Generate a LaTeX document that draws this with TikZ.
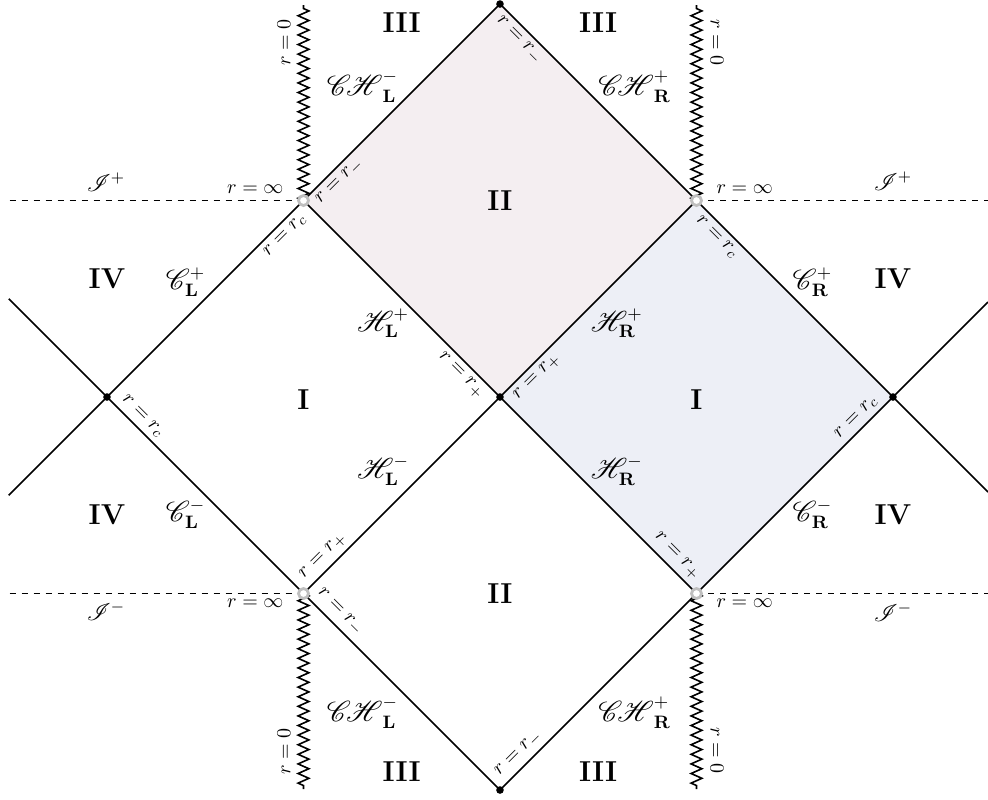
\documentclass[tikz,border=0pt]{standalone}
\usepackage{amsmath,amssymb}
\usepackage{mathrsfs}
\usetikzlibrary{decorations.pathmorphing}
\usetikzlibrary{calc,positioning}

\definecolor{regionII}{RGB}{244,238,241}
\definecolor{regionI}{RGB}{237,239,246}

\begin{document}
\begin{tikzpicture}[
    x=1.7266cm, y=1.7266cm,
    edge/.style={line width=0.8pt},
    scri/.style={dashed, line width=0.8pt},
    sing/.style={line width=0.8pt, decorate,
        decoration={zigzag, segment length=4.8pt, amplitude=2.7pt}},
    dot/.style={circle, fill=black, inner sep=0pt, minimum size=3.8pt},
    hole/.style={circle, draw=black!25, fill=white, line width=1.4pt,
        inner sep=0pt, minimum size=5pt},
    region/.style={font=\Large\bfseries},
    lbl/.style={inner sep=2.5pt},
    bdry/.style={font=\fontsize{13.5pt}{16pt}\selectfont},
    scrinf/.style={font=\fontsize{11.5pt}{14pt}\selectfont},
 ]
    \useasboundingbox (-5.089,-4.092) rectangle (4.967,4.041);

    % corners of the diagram
    \coordinate (T) at (0,4);
    \coordinate (B) at (0,-4);
    \coordinate (L) at (-4,0);
    \coordinate (R) at (4,0);
    \coordinate (O) at (0,0);
    \coordinate (TL) at (-2,2);
    \coordinate (TR) at (2,2);
    \coordinate (BL) at (-2,-2);
    \coordinate (BR) at (2,-2);
    % free ends
    \coordinate (LU) at (-5,1);
    \coordinate (LD) at (-5,-1);
    \coordinate (RU) at (4.967,0.967);
    \coordinate (RD) at (4.967,-0.967);
    \coordinate (SLU) at (-4.99,2);
    \coordinate (SRU) at (4.967,2);
    \coordinate (SLD) at (-4.99,-2);
    \coordinate (SRD) at (4.967,-2);
    \coordinate (ZTL) at (-2,3.99);
    \coordinate (ZTR) at (2,3.99);
    \coordinate (ZBL) at (-2,-3.99);
    \coordinate (ZBR) at (2,-3.99);

    \fill[regionII] (T) -- (TL) -- (O) -- (TR) -- cycle;
    \fill[regionI] (TR) -- (R) -- (BR) -- (O) -- cycle;

    % horizons
    \draw[edge] (TL) -- node[lbl, sloped, below, pos=.14] {$r=r_-$} (T);
    \draw[edge] (T) -- node[lbl, sloped, below, pos=.14] {$r=r_-$} (TR);
    \draw[edge] (TL) -- node[lbl, sloped, below, pos=.845] {$r=r_+$} (O);
    \draw[edge] (O) -- node[lbl, sloped, below, pos=.145] {$r=r_+$} (TR);
    \draw[edge] (L) -- node[lbl, sloped, below, pos=.865] {$r=r_c$} (TL);
    \draw[edge] (TR) -- node[lbl, sloped, below, pos=.145] {$r=r_c$} (R);
    \draw[edge] (L) -- node[lbl, sloped, above, pos=.14] {$r=r_c$} (BL);
    \draw[edge] (BR) -- node[lbl, sloped, above, pos=.855] {$r=r_c$} (R);
    \draw[edge] (BL) -- node[lbl, sloped, above, pos=.145] {$r=r_+$} (O);
    \draw[edge] (O) -- node[lbl, sloped, above, pos=.855] {$r=r_+$} (BR);
    \draw[edge] (BL) -- node[lbl, sloped, above, pos=.14] {$r=r_-$} (B);
    \draw[edge] (B) -- node[lbl, sloped, above, pos=.14] {$r=r_-$} (BR);

    \draw[edge] (L) -- (LU);
    \draw[edge] (L) -- (LD);
    \draw[edge] (R) -- (RU);
    \draw[edge] (R) -- (RD);

    % null infinity
    \draw[scri] (SLU) -- (TL);
    \draw[scri] (TR) -- (SRU);
    \draw[scri] (SLD) -- (BL);
    \draw[scri] (BR) -- (SRD);

    % singularities
    \draw[sing] (TL) -- (ZTL);
    \draw[sing] (TR) -- (ZTR);
    \draw[sing] (BL) -- (ZBL);
    \draw[sing] (BR) -- (ZBR);

    \node[dot] (t) at (T) {};
    \node[dot] (b) at (B) {};
    \node[dot] (l) at (L) {};
    \node[dot] (r) at (R) {};
    \node[dot] (o) at (O) {};
    \node[hole] (tl) at (TL) {};
    \node[hole] (tr) at (TR) {};
    \node[hole] (bl) at (BL) {};
    \node[hole] (br) at (BR) {};

    % regions
    \node[region] (I-l) at (-2,-0.03) {I};
    \node[region] (I-r) at (2,-0.03) {I};
    \node[region] (II-t) at (0,2) {II};
    \node[region] (II-b) at (0,-2) {II};
    \node[region] (III-tl) at (-1,3.81) {III};
    \node[region] (III-tr) at (1,3.81) {III};
    \node[region] (III-bl) at (-1,-3.81) {III};
    \node[region] (III-br) at (1,-3.81) {III};
    \node[region] (IV-tl) at (-4,1.2) {IV};
    \node[region] (IV-bl) at (-4,-1.2) {IV};
    \node[region] (IV-tr) at (4,1.2) {IV};
    \node[region] (IV-br) at (4,-1.2) {IV};

    % boundary names
    \node[bdry] (Hlp) at (-1.19,0.75) {$\mathscr{H}^+_{\mathbf{L}}$};
    \node[bdry] (Hrp) at (1.19,0.75) {$\mathscr{H}^+_{\mathbf{R}}$};
    \node[bdry] (Hlm) at (-1.19,-0.75) {$\mathscr{H}^-_{\mathbf{L}}$};
    \node[bdry] (Hrm) at (1.19,-0.75) {$\mathscr{H}^-_{\mathbf{R}}$};
    \node[bdry] (Clp) at (-3.2,1.17) {$\mathscr{C}^+_{\mathbf{L}}$};
    \node[bdry] (Clm) at (-3.2,-1.19) {$\mathscr{C}^-_{\mathbf{L}}$};
    \node[bdry] (Crp) at (3.18,1.17) {$\mathscr{C}^+_{\mathbf{R}}$};
    \node[bdry] (Crm) at (3.18,-1.19) {$\mathscr{C}^-_{\mathbf{R}}$};
    \node[bdry] (CHlt) at (-1.4,3.16) {$\mathscr{C\!H}^-_{\mathbf{L}}$};
    \node[bdry] (CHrt) at (1.37,3.16) {$\mathscr{C\!H}^+_{\mathbf{R}}$};
    \node[bdry] (CHlb) at (-1.4,-3.21) {$\mathscr{C\!H}^-_{\mathbf{L}}$};
    \node[bdry] (CHrb) at (1.37,-3.21) {$\mathscr{C\!H}^+_{\mathbf{R}}$};
    \node[scrinf] (Ilp) at (-4.01,2.19) {$\mathscr{I}^+$};
    \node[scrinf] (Irp) at (4,2.2) {$\mathscr{I}^+$};
    \node[scrinf] (Ilm) at (-4.01,-2.18) {$\mathscr{I}^-$};
    \node[scrinf] (Irm) at (4,-2.19) {$\mathscr{I}^-$};

    \node (inf-tl) at (-2.49,2.12) {$r=\infty$};
    \node (inf-tr) at (2.49,2.12) {$r=\infty$};
    \node (inf-bl) at (-2.49,-2.1) {$r=\infty$};
    \node (inf-br) at (2.49,-2.1) {$r=\infty$};

    \node[rotate=90] (zero-tl) at (-2.2,3.61) {$r=0$};
    \node[rotate=-90] (zero-tr) at (2.21,3.61) {$r=0$};
    \node[rotate=90] (zero-bl) at (-2.2,-3.61) {$r=0$};
    \node[rotate=-90] (zero-br) at (2.21,-3.6) {$r=0$};
\end{tikzpicture}
\end{document}
